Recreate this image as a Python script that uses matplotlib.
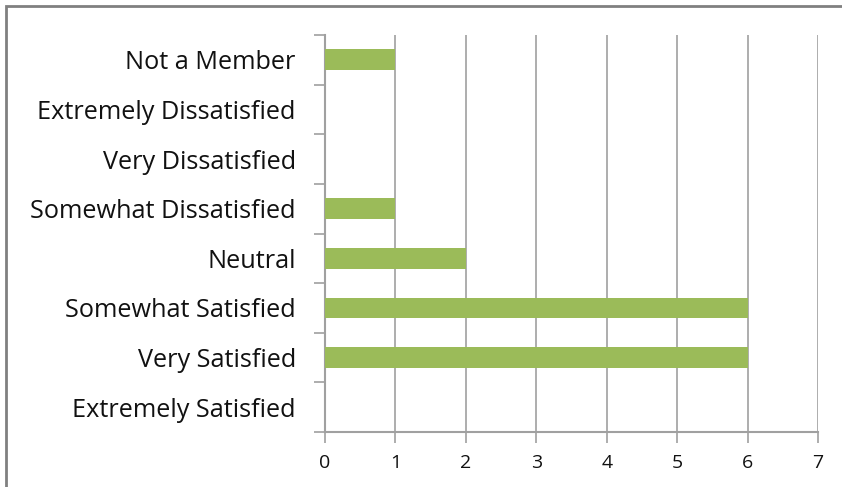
import matplotlib.pyplot as plt
from matplotlib.patches import Rectangle

categories = ['Extremely Satisfied', 'Very Satisfied', 'Somewhat Satisfied', 'Neutral',
              'Somewhat Dissatisfied', 'Very Dissatisfied', 'Extremely Dissatisfied', 'Not a Member']
counts = [0, 6, 6, 2, 1, 0, 0, 1]

plt.rcParams['font.family'] = ['Open Sans', 'DejaVu Sans']

fig = plt.figure(figsize=(8.42, 4.87), dpi=100)
ax = fig.add_axes([325/842, 1-432/487, (818-325)/842, (432-35)/487])

pos = range(len(categories))
ax.barh(pos, counts, height=0.42, color='#9BBB59', zorder=3)

ax.set_xlim(0, 7)
ax.set_ylim(-0.5, len(categories) - 0.5)
ax.set_xticks(range(8))
ax.set_yticks([p - 0.5 for p in range(len(categories) + 1)], minor=False)
ax.set_yticklabels([])
ax.set_yticks(list(pos), minor=True)
ax.set_yticklabels(categories, minor=True, fontsize=18.2, color='#111111')
ax.tick_params(axis='y', which='minor', length=0, pad=21)
ax.tick_params(axis='y', which='major', length=8, color='#a0a0a0', width=1.2)
ax.tick_params(axis='x', length=8, color='#a0a0a0', width=1.2, labelsize=14, pad=8, labelcolor='#111111')

ax.grid(axis='x', color='#a0a0a0', linewidth=1.2, zorder=0)
for s in ['top', 'right']:
    ax.spines[s].set_visible(False)
for s in ['left', 'bottom']:
    ax.spines[s].set_color('#a0a0a0')
    ax.spines[s].set_linewidth(1.5)

fig.patches.append(Rectangle((6/842, -0.1), 1.2, 1 - 6/487 + 0.1, transform=fig.transFigure,
                             fill=False, edgecolor='#808080', linewidth=2))

fig.savefig('out.png', dpi=100)
